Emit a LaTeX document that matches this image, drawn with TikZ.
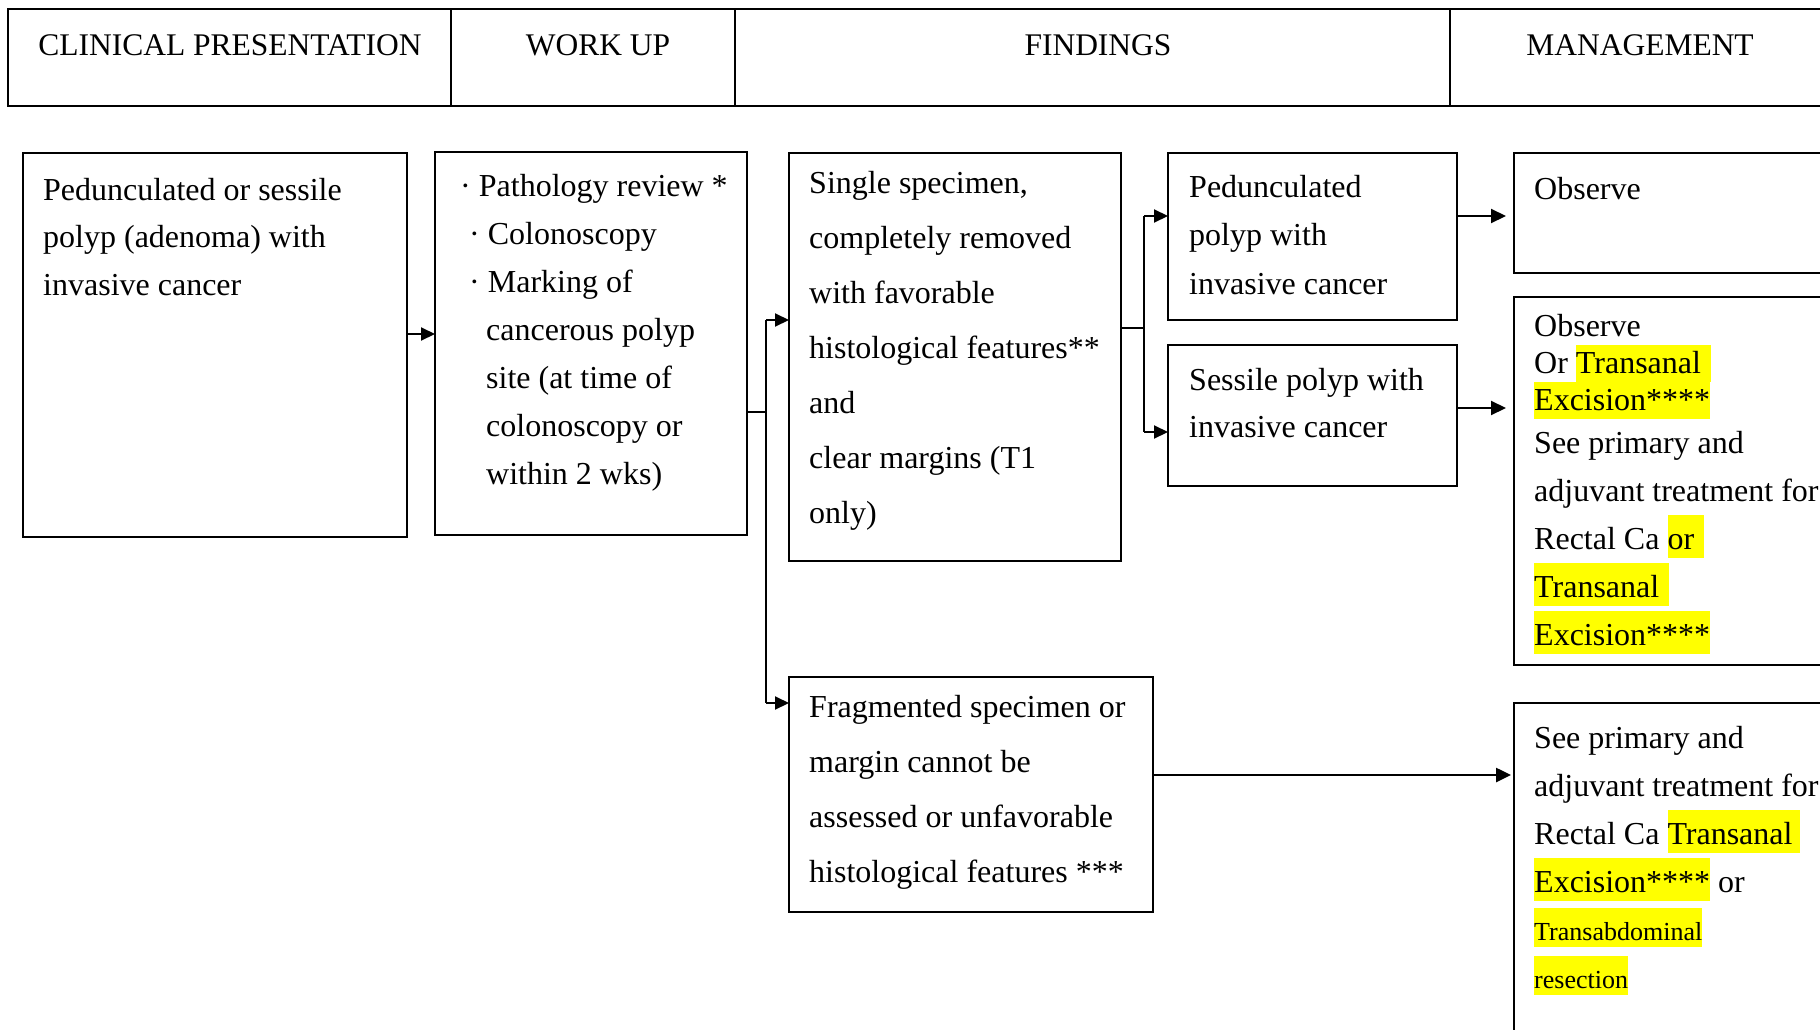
\documentclass[tikz,border=0pt]{standalone}
\usepackage{fontspec}
\setmainfont{Liberation Serif}
\usetikzlibrary{arrows.meta}
\definecolor{hlyellow}{RGB}{255,255,0}

% yellow marker behind a word: depth, height, text
\newcommand\hlmark[3]{\smash{\setlength{\fboxsep}{0pt}\colorbox{hlyellow}{\rule[-#1]{0pt}{#2}#3}}}
\newcommand\hl[1]{\hlmark{9pt}{43pt}{#1}}
\newcommand\hlt[1]{\hlmark{9pt}{37pt}{#1}}
\newcommand\hls[1]{\hlmark{7pt}{39pt}{#1}}
\newcommand\bodyfont[1]{\fontsize{32pt}{#1pt}\selectfont}

\begin{document}
\begin{tikzpicture}[x=1pt,y=-1pt,
  frame/.style={draw, line width=2pt, inner sep=0pt, outer sep=0pt, anchor=north west},
  hdrtext/.style={inner sep=0pt, anchor=base, font=\fontsize{31.5pt}{38pt}\selectfont},
  % text blocks are placed by the baseline of their last line
  body/.style={inner sep=0pt, anchor=base west, align=left, font=\bodyfont{#1}},
  conn/.style={line width=2pt},
  arrs/.style={conn, -{Triangle[length=14pt,width=13pt]}},
  arrl/.style={conn, -{Triangle[length=15pt,width=14pt]}}]
\clip (0,0) rectangle (1820,1030);
\fill[white] (0,0) rectangle (1820,1030);

% column headers
\node[frame, minimum width=443pt, minimum height=97pt] (h1) at (8,9) {};
\node[frame, minimum width=284pt, minimum height=97pt] (h2) at (451,9) {};
\node[frame, minimum width=715pt, minimum height=97pt] (h3) at (735,9) {};
\node[frame, minimum width=385pt, minimum height=97pt] (h4) at (1450,9) {};
\node[hdrtext] (h1t) at (230,55.5) {CLINICAL PRESENTATION};
\node[hdrtext] (h2t) at (598,55.5) {WORK UP};
\node[hdrtext] (h3t) at (1098,55.5) {FINDINGS};
\node[hdrtext] (h4t) at (1640,55.5) {MANAGEMENT};

% boxes
\node[frame, minimum width=384pt, minimum height=384pt] (A) at (23,153) {};
\node[frame, minimum width=312pt, minimum height=383pt] (B) at (435,152) {};
\node[frame, minimum width=332pt, minimum height=408pt] (C) at (789,153) {};
\node[frame, minimum width=289pt, minimum height=167pt] (D) at (1168,153) {};
\node[frame, minimum width=289pt, minimum height=141pt] (E) at (1168,345) {};
\node[frame, minimum width=330pt, minimum height=120pt] (F) at (1514,153) {};
\node[frame, minimum width=330pt, minimum height=368pt] (G) at (1514,297) {};
\node[frame, minimum width=364pt, minimum height=235pt] (H) at (789,677) {};
\node[frame, minimum width=330pt, minimum height=360pt] (I) at (1514,703) {};

% box texts
\node[body=47.5] (tA) at (43,295) {Pedunculated or sessile\\polyp (adenoma) with\\invasive cancer};
\node[body=48] (tB) at (460,484) {· Pathology review *\\
  \hspace*{9pt}· Colonoscopy\\
  \hspace*{9pt}· Marking of\\
  \hspace*{26pt}cancerous polyp\\
  \hspace*{26pt}site (at time of\\
  \hspace*{26pt}colonoscopy or\\
  \hspace*{26pt}within 2 wks)};
\node[body=55] (tC) at (809,523) {Single specimen,\\completely removed\\with favorable\\histological features**\\and\\clear margins (T1\\only)};
\node[body=48.5] (tD) at (1189,294) {Pedunculated\\polyp with\\invasive cancer};
\node[body=47] (tE) at (1189,437) {Sessile polyp with\\invasive cancer};
\node[body=48] (tF) at (1534,199) {Observe};
\node[body=48] (tG) at (1534,645) {Observe\\[-11pt]
  Or \hlt{Transanal\hspace{10pt}}\\[-11pt]
  \hlt{Excision****}\\[-5pt]
  See primary and\\
  adjuvant treatment for\\
  Rectal Ca \hl{or\hspace{10pt}}\\
  \hl{Transanal\hspace{10pt}}\\
  \hl{Excision****}};
\node[body=55] (tH) at (809,882) {Fragmented specimen or\\margin cannot be\\assessed or unfavorable\\histological features ***};
\node[body=48] (tI) at (1534,988) {See primary and\\
  adjuvant treatment for\\
  Rectal Ca \hl{Transanal\hspace{7pt}}\\
  \hl{Excision****} or\\
  {\fontsize{26pt}{48pt}\selectfont\hls{Transabdominal}}\\
  {\fontsize{26pt}{48pt}\selectfont\hls{resection}}};

% connectors
\coordinate (jB) at (766,412);
\coordinate (jC) at (1144,328);
\draw[arrs] (A.east |- 0,334) -- (B.west |- 0,334);
\draw[conn] (B.east |- jB) -- (jB);
\draw[conn] (jB |- 0,320) -- (jB |- 0,703);
\draw[arrs] (jB |- 0,320) -- (C.west |- 0,320);
\draw[arrs] (jB |- 0,703) -- (H.west |- 0,703);
\draw[conn] (C.east |- jC) -- (jC);
\draw[conn] (jC |- 0,216) -- (jC |- 0,432);
\draw[arrs] (jC |- 0,216) -- (D.west |- 0,216);
\draw[arrs] (jC |- 0,432) -- (E.west |- 0,432);
\draw[arrl, shorten >=8pt] (D.east |- 0,216) -- (F.west |- 0,216);
\draw[arrl, shorten >=8pt] (E.east |- 0,408) -- (G.west |- 0,408);
\draw[arrl, line width=2.5pt, shorten >=3pt] (H.east |- 0,775) -- (I.west |- 0,775);
\end{tikzpicture}
\end{document}
